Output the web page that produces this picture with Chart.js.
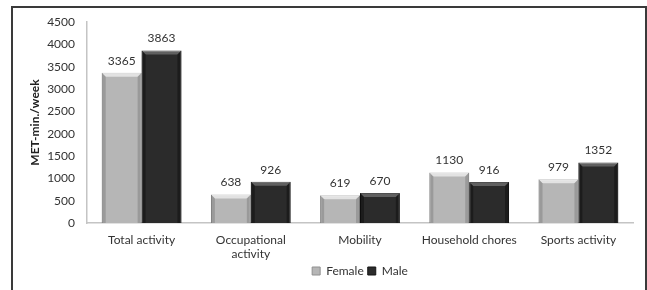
<!DOCTYPE html>
<html>
<head>
<meta charset="utf-8">
<script src="https://cdn.jsdelivr.net/npm/chart.js@4"></script>
<style>
  html, body { margin: 0; padding: 0; background: #fff; }
  #wrap { position: relative; width: 647px; height: 290px; overflow: hidden; }
  #frame { position: absolute; left: 11px; top: 6px; width: 632px; height: 320px;
    border: 2px solid #3a3a3a; box-sizing: content-box; pointer-events: none; }
  canvas { position: absolute; left: 0; top: 0; }
</style>
</head>
<body>
<div id="wrap">
  <canvas id="chart" width="647" height="290"></canvas>
  <div id="frame"></div>
</div>
<script>
// 按性别分的身体活动量（MET-min./week）
const categories = ['Total activity', ['Occupational', 'activity'], 'Mobility', 'Household chores', 'Sports activity'];
const female = [3365, 638, 619, 1130, 979];
const male = [3863, 926, 670, 916, 1352];
const yTicks = [0, 500, 1000, 1500, 2000, 2500, 3000, 3500, 4000, 4500];

const FONT = 'Lato, "Liberation Sans", sans-serif';

// 柱顶数值标签
const valueLabels = {
  id: 'valueLabels',
  afterDatasetsDraw(chart) {
    const ctx = chart.ctx;
    ctx.save();
    ctx.font = '12px ' + FONT;
    ctx.fillStyle = '#333';
    ctx.textAlign = 'center';
    ctx.textBaseline = 'middle';
    chart.data.datasets.forEach((ds, i) => {
      chart.getDatasetMeta(i).data.forEach((bar, j) => {
        ctx.fillText(String(ds.data[j]), bar.x, bar.y - 12);
      });
    });
    ctx.restore();
  }
};

// 仿 Excel 的斜面效果
const bevel = {
  id: 'bevel',
  afterDatasetsDraw(chart) {
    const ctx = chart.ctx;
    const hi = ['rgba(255,255,255,0.6)', 'rgba(255,255,255,0.25)'];
    const lo = ['rgba(0,0,0,0.15)', 'rgba(0,0,0,0.35)'];
    ctx.save();
    chart.data.datasets.forEach((ds, i) => {
      chart.getDatasetMeta(i).data.forEach(bar => {
        const l = bar.x - bar.width / 2, r = bar.x + bar.width / 2, t = bar.y, b = bar.base;
        const e = 4;
        ctx.fillStyle = hi[i];
        ctx.beginPath();
        ctx.moveTo(l, t); ctx.lineTo(r, t); ctx.lineTo(r - e, t + e); ctx.lineTo(l + e, t + e);
        ctx.closePath(); ctx.fill();
        ctx.fillStyle = lo[i];
        ctx.beginPath();
        ctx.moveTo(r, t); ctx.lineTo(r, b); ctx.lineTo(r - e, b); ctx.lineTo(r - e, t + e);
        ctx.closePath(); ctx.fill();
        ctx.beginPath();
        ctx.moveTo(l, t); ctx.lineTo(l + e, t + e); ctx.lineTo(l + e, b); ctx.lineTo(l, b);
        ctx.closePath(); ctx.fill();
      });
    });
    ctx.restore();
  }
};

new Chart(document.getElementById('chart').getContext('2d'), {
  type: 'bar',
  data: {
    labels: categories,
    datasets: [
      { label: 'Female', data: female, backgroundColor: '#b6b6b6', borderColor: '#909090', borderWidth: 1,
        borderSkipped: 'bottom', barPercentage: 1.0, categoryPercentage: 0.73 },
      { label: 'Male', data: male, backgroundColor: '#2b2b2b', borderColor: '#151515', borderWidth: 1,
        borderSkipped: 'bottom', barPercentage: 1.0, categoryPercentage: 0.73 }
    ]
  },
  options: {
    responsive: false,
    animation: false,
    events: [],
    layout: { padding: { left: 28, top: 22, right: 14, bottom: 3 } },
    plugins: {
      legend: {
        position: 'bottom',
        fullSize: false,
        labels: { color: '#333', font: { size: 12, family: FONT }, boxWidth: 8, boxHeight: 8, padding: 4 }
      },
      tooltip: { enabled: false }
    },
    scales: {
      x: {
        grid: { display: false, drawTicks: false },
        border: { color: '#c4c4c4', width: 1.5 },
        ticks: { color: '#333', font: { size: 12, family: FONT }, padding: 10, maxRotation: 0, autoSkip: false },
        afterFit: s => { s.height = 38; }
      },
      y: {
        min: 0, max: 4500,
        afterBuildTicks: s => { s.ticks = yTicks.map(v => ({ value: v })); },
        grid: { display: false, drawTicks: false },
        border: { color: '#c4c4c4', width: 1.5 },
        ticks: { color: '#333', font: { size: 12, family: FONT }, padding: 12, callback: v => String(v) },
        title: { display: true, text: 'MET-min./week', color: '#222', font: { size: 12, weight: 'bold', family: FONT }, padding: 0 },
        afterFit: s => { s.width = 59; }
      }
    }
  },
  plugins: [valueLabels, bevel]
});
</script>
</body>
</html>
